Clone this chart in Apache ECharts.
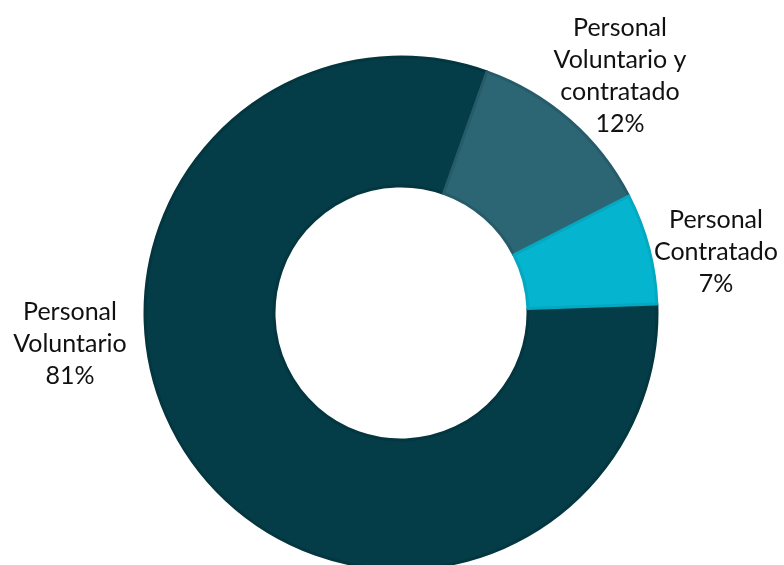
<!DOCTYPE html>
<html>
<head>
<meta charset="utf-8">
<script src="https://cdn.jsdelivr.net/npm/echarts@6/dist/echarts.min.js"></script>
<style>
html,body{margin:0;padding:0;background:#fff;}
#chart{width:784px;height:565px;}
</style>
</head>
<body>
<div id="chart"></div>
<script>
const categories = ["Personal\nVoluntario", "Personal\nVoluntario y\ncontratado", "Personal\nContratado"];
const values = [81, 12, 7];
const colors = ["#043d48", "#2c6674", "#05b5d0"];
const borders = ["#03363f", "#265c69", "#04a8c1"];
const labelSpots = [[70, 344], [620, 76], [716, 252]];

const chart = echarts.init(document.getElementById('chart'));
chart.setOption({
  backgroundColor: '#ffffff',
  animation: false,
  series: [{
    type: 'pie',
    center: [401, 313],
    radius: [127, 256],
    startAngle: 2,
    clockwise: true,
    avoidLabelOverlap: false,
    data: categories.map((c, i) => ({
      name: c,
      value: values[i],
      itemStyle: { color: colors[i], borderColor: borders[i], borderWidth: 3 }
    })),
    label: {
      show: true,
      position: 'outside',
      formatter: p => p.name + '\n' + p.value + '%',
      fontFamily: 'Lato',
      fontSize: 25,
      lineHeight: 32,
      color: '#111111',
      align: 'center'
    },
    labelLine: { show: false },
    labelLayout: p => ({
      x: labelSpots[p.dataIndex][0],
      y: labelSpots[p.dataIndex][1],
      align: 'center',
      verticalAlign: 'middle'
    })
  }]
});
</script>
</body>
</html>
